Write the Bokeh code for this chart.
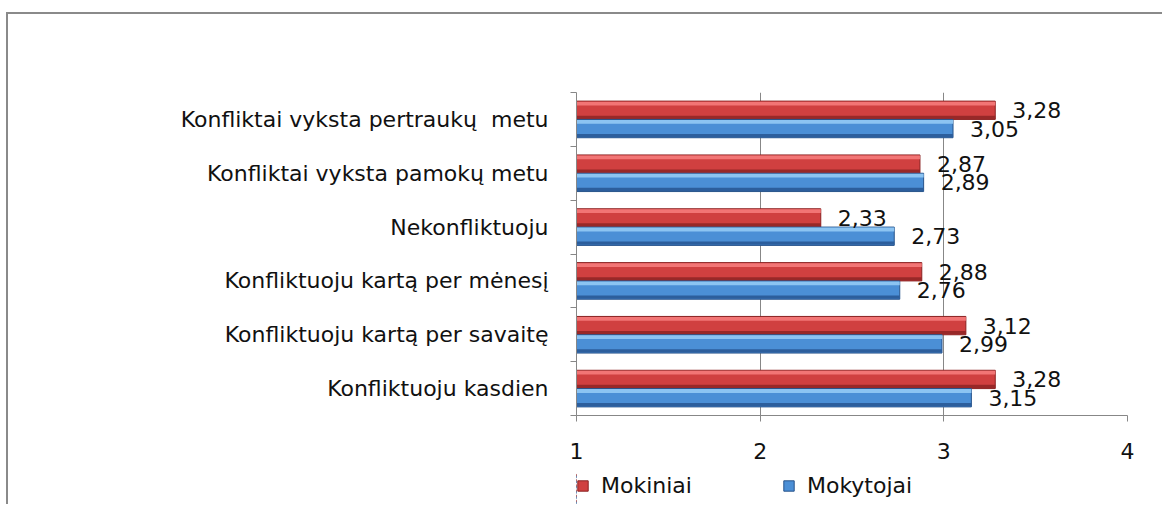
from bokeh.plotting import figure
from bokeh.models import ColumnDataSource, Range1d, FixedTicker, Legend, LegendItem
from bokeh.layouts import column
from bokeh.transform import dodge
from bokeh.core.properties import value
from bokeh.embed import file_html
from bokeh.resources import INLINE

# ---- data (top to bottom, as in the chart) ----
categories = [
    "Konfliktai vyksta pertraukų\u00a0 metu",
    "Konfliktai vyksta pamokų metu",
    "Nekonfliktuoju",
    "Konfliktuoju kartą per mėnesį",
    "Konfliktuoju kartą per savaitę",
    "Konfliktuoju kasdien",
]
mokiniai = [3.28, 2.87, 2.33, 2.88, 3.12, 3.28]
mokytojai = [3.05, 2.89, 2.73, 2.76, 2.99, 3.15]
series_names = ["Mokiniai", "Mokytojai"]
x_ticks = [1, 2, 3, 4]

n = len(categories)
ypos = [n - i - 0.5 for i in range(n)]
boundaries = list(range(n + 1))

def fmt(v):
    return f"{v:.2f}".replace(".", ",")

src = ColumnDataSource(dict(
    y=ypos,
    cat=categories,
    mok=mokiniai,
    tea=mokytojai,
    base=[x_ticks[0]] * n,
    mok_lbl=[fmt(v) for v in mokiniai],
    tea_lbl=[fmt(v) for v in mokytojai],
))

FONT = "DejaVu Sans"
FS = "22px"
GRAY = "#878787"
TXT = "#111111"
W = 1154

p = figure(
    width=W, height=456,
    x_range=Range1d(1, 4), y_range=Range1d(0, n),
    output_backend="svg", toolbar_location=None,
    min_border_left=568, min_border_right=35,
    min_border_top=78, min_border_bottom=55,
)
p.outline_line_color = None
p.background_fill_color = "white"
p.border_fill_color = "white"

# axes
p.xaxis.ticker = FixedTicker(ticks=x_ticks)
p.xaxis.axis_line_color = GRAY
p.xaxis.major_tick_line_color = GRAY
p.xaxis.major_tick_out = 6
p.xaxis.major_tick_in = 0
p.xaxis.minor_tick_line_color = None
p.xaxis.major_label_text_font = FONT
p.xaxis.major_label_text_font_size = FS
p.xaxis.major_label_text_color = TXT
p.xaxis.major_label_standoff = 21

p.yaxis.ticker = FixedTicker(ticks=ypos, minor_ticks=boundaries)
p.yaxis.major_label_overrides = {y: c for y, c in zip(ypos, categories)}
p.yaxis.axis_line_color = GRAY
p.yaxis.major_tick_line_color = None
p.yaxis.major_tick_out = 0
p.yaxis.major_tick_in = 0
p.yaxis.minor_tick_line_color = GRAY
p.yaxis.minor_tick_out = 6
p.yaxis.minor_tick_in = 0
p.yaxis.major_label_text_font = FONT
p.yaxis.major_label_text_font_size = FS
p.yaxis.major_label_text_color = TXT
p.yaxis.major_label_standoff = 22

p.xgrid.ticker = FixedTicker(ticks=x_ticks)
p.xgrid.grid_line_color = GRAY
p.ygrid.grid_line_color = None

# bars with a bevelled look
H = 0.34
D = 0.17
styles = [
    ("mok", D, "#d04040", "#f27575", "#982828", "#8a2222"),
    ("tea", -D, "#4b8fd6", "#8cc4f2", "#2c5e9c", "#27538a"),
]
for col, d, mid, light, dark, edge in styles:
    p.hbar(y=dodge("y", d), left="base", right=col, height=H, source=src,
           fill_color=mid, line_color=edge, line_width=1)
    p.hbar(y=dodge("y", d + H / 2 - 0.045), left="base", right=col, height=0.07,
           source=src, fill_color=light, line_color=None)
    p.hbar(y=dodge("y", d - H / 2 + 0.04), left="base", right=col, height=0.06,
           source=src, fill_color=dark, line_color=None)

# value labels
for col, d in [("mok", D), ("tea", -D)]:
    p.text(x=col, y=dodge("y", d), text=col + "_lbl", source=src,
           x_offset=17, text_baseline="middle", text_align="left",
           text_font=value(FONT), text_font_size=FS, text_color=TXT)

# legend strip (separate small figure under the chart); its bars use the same
# data but lie outside its visible x range, so only the legend shows
pl = figure(width=W, height=34, x_range=Range1d(10, 11), y_range=Range1d(0, n),
            output_backend="svg", toolbar_location=None,
            x_axis_type=None, y_axis_type=None,
            min_border_left=555, min_border_right=0, min_border_top=3,
            min_border_bottom=0)
pl.outline_line_color = None
pl.xgrid.grid_line_color = None
pl.ygrid.grid_line_color = None
pl.background_fill_color = "white"
pl.border_fill_color = "white"
leg_r = []
for col, d, mid, light, dark, edge in styles:
    leg_r.append(pl.hbar(y=dodge("y", d), left="base", right=col, height=H,
                         source=src, fill_color=mid, line_color=edge,
                         line_width=1))

legend = Legend(
    items=[LegendItem(label=series_names[0], renderers=[leg_r[0]]),
           LegendItem(label=series_names[1], renderers=[leg_r[1]])],
    orientation="horizontal", location="top_left",
    glyph_width=13, glyph_height=13, label_standoff=12, spacing=90,
    padding=0, margin=0, border_line_color=None, background_fill_alpha=0,
    label_text_font=FONT, label_text_font_size=FS, label_text_color=TXT,
)
pl.add_layout(legend, "center")

page = column(p, pl, spacing=0,
              styles={"margin-top": "12px", "margin-left": "6px",
                      "border-top": "2px solid #8a8a8a",
                      "border-left": "2px solid #8a8a8a"})

open("out.html", "w").write(file_html(page, INLINE))
